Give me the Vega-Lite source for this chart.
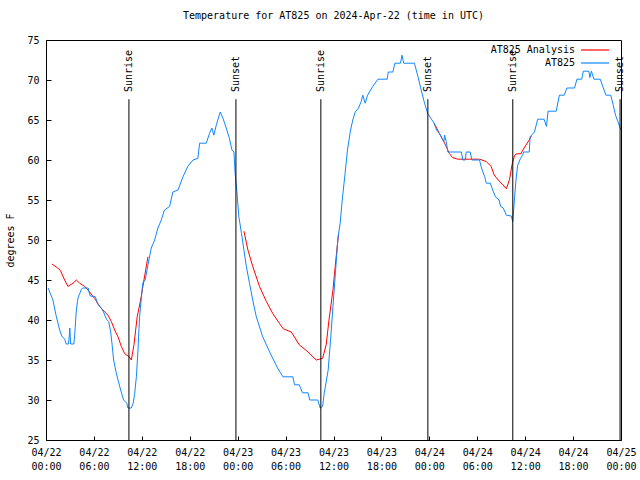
{
  "$schema": "https://vega.github.io/schema/vega-lite/v6.json",
  "width": 575,
  "height": 400,
  "autosize": "none",
  "padding": {"left": 46, "top": 40, "right": 19, "bottom": 40},
  "background": "white",
  "title": {"text": "Temperature for AT825 on 2024-Apr-22 (time in UTC)", "font": "DejaVu Sans Mono", "fontSize": 10, "fontWeight": "normal", "color": "black", "offset": 14},
  "config": {"view": {"stroke": "black", "strokeWidth": 1}, "font": "DejaVu Sans Mono"},
  "datasets": {
    "lines": [
      {"t": "2024-04-22T00:45:00Z", "temp": 47, "series": "AT825 Analysis", "seg": "r1"},
      {"t": "2024-04-22T01:28:00Z", "temp": 46.5, "series": "AT825 Analysis", "seg": "r1"},
      {"t": "2024-04-22T01:48:00Z", "temp": 46.2, "series": "AT825 Analysis", "seg": "r1"},
      {"t": "2024-04-22T02:20:00Z", "temp": 45, "series": "AT825 Analysis", "seg": "r1"},
      {"t": "2024-04-22T02:45:00Z", "temp": 44.2, "series": "AT825 Analysis", "seg": "r1"},
      {"t": "2024-04-22T03:23:00Z", "temp": 44.6, "series": "AT825 Analysis", "seg": "r1"},
      {"t": "2024-04-22T03:48:00Z", "temp": 45, "series": "AT825 Analysis", "seg": "r1"},
      {"t": "2024-04-22T04:13:00Z", "temp": 44.6, "series": "AT825 Analysis", "seg": "r1"},
      {"t": "2024-04-22T04:50:00Z", "temp": 44.2, "series": "AT825 Analysis", "seg": "r1"},
      {"t": "2024-04-22T05:28:00Z", "temp": 43.5, "series": "AT825 Analysis", "seg": "r1"},
      {"t": "2024-04-22T06:05:00Z", "temp": 42.7, "series": "AT825 Analysis", "seg": "r1"},
      {"t": "2024-04-22T06:43:00Z", "temp": 41.7, "series": "AT825 Analysis", "seg": "r1"},
      {"t": "2024-04-22T07:21:00Z", "temp": 41, "series": "AT825 Analysis", "seg": "r1"},
      {"t": "2024-04-22T07:46:00Z", "temp": 40.6, "series": "AT825 Analysis", "seg": "r1"},
      {"t": "2024-04-22T08:11:00Z", "temp": 39.8, "series": "AT825 Analysis", "seg": "r1"},
      {"t": "2024-04-22T08:36:00Z", "temp": 38.75, "series": "AT825 Analysis", "seg": "r1"},
      {"t": "2024-04-22T09:01:00Z", "temp": 37.9, "series": "AT825 Analysis", "seg": "r1"},
      {"t": "2024-04-22T09:26:00Z", "temp": 36.7, "series": "AT825 Analysis", "seg": "r1"},
      {"t": "2024-04-22T09:51:00Z", "temp": 35.8, "series": "AT825 Analysis", "seg": "r1"},
      {"t": "2024-04-22T10:25:00Z", "temp": 35.4, "series": "AT825 Analysis", "seg": "r1"},
      {"t": "2024-04-22T10:41:00Z", "temp": 35, "series": "AT825 Analysis", "seg": "r1"},
      {"t": "2024-04-22T11:01:00Z", "temp": 36.9, "series": "AT825 Analysis", "seg": "r1"},
      {"t": "2024-04-22T11:25:00Z", "temp": 40.4, "series": "AT825 Analysis", "seg": "r1"},
      {"t": "2024-04-22T11:51:00Z", "temp": 42.5, "series": "AT825 Analysis", "seg": "r1"},
      {"t": "2024-04-22T12:16:00Z", "temp": 45, "series": "AT825 Analysis", "seg": "r1"},
      {"t": "2024-04-22T12:46:00Z", "temp": 47.9, "series": "AT825 Analysis", "seg": "r1"},
      {"t": "2024-04-23T00:47:00Z", "temp": 51.1, "series": "AT825 Analysis", "seg": "r2"},
      {"t": "2024-04-23T01:17:00Z", "temp": 48.75, "series": "AT825 Analysis", "seg": "r2"},
      {"t": "2024-04-23T01:53:00Z", "temp": 46.7, "series": "AT825 Analysis", "seg": "r2"},
      {"t": "2024-04-23T02:44:00Z", "temp": 44.2, "series": "AT825 Analysis", "seg": "r2"},
      {"t": "2024-04-23T03:36:00Z", "temp": 42.3, "series": "AT825 Analysis", "seg": "r2"},
      {"t": "2024-04-23T04:24:00Z", "temp": 40.8, "series": "AT825 Analysis", "seg": "r2"},
      {"t": "2024-04-23T05:13:00Z", "temp": 39.6, "series": "AT825 Analysis", "seg": "r2"},
      {"t": "2024-04-23T05:43:00Z", "temp": 38.9, "series": "AT825 Analysis", "seg": "r2"},
      {"t": "2024-04-23T06:43:00Z", "temp": 38.5, "series": "AT825 Analysis", "seg": "r2"},
      {"t": "2024-04-23T07:43:00Z", "temp": 36.9, "series": "AT825 Analysis", "seg": "r2"},
      {"t": "2024-04-23T08:49:00Z", "temp": 36, "series": "AT825 Analysis", "seg": "r2"},
      {"t": "2024-04-23T09:50:00Z", "temp": 35, "series": "AT825 Analysis", "seg": "r2"},
      {"t": "2024-04-23T10:14:00Z", "temp": 35.1, "series": "AT825 Analysis", "seg": "r2"},
      {"t": "2024-04-23T10:38:00Z", "temp": 35.2, "series": "AT825 Analysis", "seg": "r2"},
      {"t": "2024-04-23T11:05:00Z", "temp": 36.9, "series": "AT825 Analysis", "seg": "r2"},
      {"t": "2024-04-23T11:26:00Z", "temp": 40, "series": "AT825 Analysis", "seg": "r2"},
      {"t": "2024-04-23T11:56:00Z", "temp": 43.75, "series": "AT825 Analysis", "seg": "r2"},
      {"t": "2024-04-23T12:20:00Z", "temp": 47.9, "series": "AT825 Analysis", "seg": "r2"},
      {"t": "2024-04-23T12:38:00Z", "temp": 50.8, "series": "AT825 Analysis", "seg": "r2"},
      {"t": "2024-04-24T00:36:00Z", "temp": 64.6, "series": "AT825 Analysis", "seg": "r3"},
      {"t": "2024-04-24T01:16:00Z", "temp": 63.3, "series": "AT825 Analysis", "seg": "r3"},
      {"t": "2024-04-24T01:55:00Z", "temp": 62.1, "series": "AT825 Analysis", "seg": "r3"},
      {"t": "2024-04-24T02:31:00Z", "temp": 60.8, "series": "AT825 Analysis", "seg": "r3"},
      {"t": "2024-04-24T02:55:00Z", "temp": 60.3, "series": "AT825 Analysis", "seg": "r3"},
      {"t": "2024-04-24T03:34:00Z", "temp": 60.1, "series": "AT825 Analysis", "seg": "r3"},
      {"t": "2024-04-24T05:01:00Z", "temp": 60.1, "series": "AT825 Analysis", "seg": "r3"},
      {"t": "2024-04-24T06:17:00Z", "temp": 60.1, "series": "AT825 Analysis", "seg": "r3"},
      {"t": "2024-04-24T07:08:00Z", "temp": 59.8, "series": "AT825 Analysis", "seg": "r3"},
      {"t": "2024-04-24T07:44:00Z", "temp": 59.2, "series": "AT825 Analysis", "seg": "r3"},
      {"t": "2024-04-24T08:08:00Z", "temp": 58.1, "series": "AT825 Analysis", "seg": "r3"},
      {"t": "2024-04-24T08:38:00Z", "temp": 57.5, "series": "AT825 Analysis", "seg": "r3"},
      {"t": "2024-04-24T09:12:00Z", "temp": 56.9, "series": "AT825 Analysis", "seg": "r3"},
      {"t": "2024-04-24T09:39:00Z", "temp": 56.4, "series": "AT825 Analysis", "seg": "r3"},
      {"t": "2024-04-24T10:03:00Z", "temp": 57.6, "series": "AT825 Analysis", "seg": "r3"},
      {"t": "2024-04-24T10:21:00Z", "temp": 59.4, "series": "AT825 Analysis", "seg": "r3"},
      {"t": "2024-04-24T10:39:00Z", "temp": 60.5, "series": "AT825 Analysis", "seg": "r3"},
      {"t": "2024-04-24T10:51:00Z", "temp": 60.75, "series": "AT825 Analysis", "seg": "r3"},
      {"t": "2024-04-24T11:28:00Z", "temp": 60.8, "series": "AT825 Analysis", "seg": "r3"},
      {"t": "2024-04-24T11:52:00Z", "temp": 61.5, "series": "AT825 Analysis", "seg": "r3"},
      {"t": "2024-04-24T12:34:00Z", "temp": 62.6, "series": "AT825 Analysis", "seg": "r3"},
      {"t": "2024-04-24T12:46:00Z", "temp": 63, "series": "AT825 Analysis", "seg": "r3"},
      {"t": "2024-04-22T00:16:00Z", "temp": 44, "series": "AT825", "seg": "b"},
      {"t": "2024-04-22T00:52:00Z", "temp": 42.5, "series": "AT825", "seg": "b"},
      {"t": "2024-04-22T01:18:00Z", "temp": 40.4, "series": "AT825", "seg": "b"},
      {"t": "2024-04-22T01:43:00Z", "temp": 38.75, "series": "AT825", "seg": "b"},
      {"t": "2024-04-22T01:58:00Z", "temp": 38, "series": "AT825", "seg": "b"},
      {"t": "2024-04-22T02:20:00Z", "temp": 37.6, "series": "AT825", "seg": "b"},
      {"t": "2024-04-22T02:32:00Z", "temp": 37, "series": "AT825", "seg": "b"},
      {"t": "2024-04-22T02:49:00Z", "temp": 37, "series": "AT825", "seg": "b"},
      {"t": "2024-04-22T02:55:00Z", "temp": 38, "series": "AT825", "seg": "b"},
      {"t": "2024-04-22T02:59:00Z", "temp": 39, "series": "AT825", "seg": "b"},
      {"t": "2024-04-22T03:05:00Z", "temp": 37, "series": "AT825", "seg": "b"},
      {"t": "2024-04-22T03:29:00Z", "temp": 37, "series": "AT825", "seg": "b"},
      {"t": "2024-04-22T03:35:00Z", "temp": 38, "series": "AT825", "seg": "b"},
      {"t": "2024-04-22T03:47:00Z", "temp": 41, "series": "AT825", "seg": "b"},
      {"t": "2024-04-22T03:56:00Z", "temp": 42.3, "series": "AT825", "seg": "b"},
      {"t": "2024-04-22T04:03:00Z", "temp": 42.9, "series": "AT825", "seg": "b"},
      {"t": "2024-04-22T04:13:00Z", "temp": 43.3, "series": "AT825", "seg": "b"},
      {"t": "2024-04-22T04:25:00Z", "temp": 43.8, "series": "AT825", "seg": "b"},
      {"t": "2024-04-22T04:35:00Z", "temp": 44, "series": "AT825", "seg": "b"},
      {"t": "2024-04-22T05:17:00Z", "temp": 44, "series": "AT825", "seg": "b"},
      {"t": "2024-04-22T05:23:00Z", "temp": 43.5, "series": "AT825", "seg": "b"},
      {"t": "2024-04-22T05:33:00Z", "temp": 43, "series": "AT825", "seg": "b"},
      {"t": "2024-04-22T06:11:00Z", "temp": 42.9, "series": "AT825", "seg": "b"},
      {"t": "2024-04-22T06:29:00Z", "temp": 42, "series": "AT825", "seg": "b"},
      {"t": "2024-04-22T06:55:00Z", "temp": 41.5, "series": "AT825", "seg": "b"},
      {"t": "2024-04-22T07:12:00Z", "temp": 41, "series": "AT825", "seg": "b"},
      {"t": "2024-04-22T07:34:00Z", "temp": 40.1, "series": "AT825", "seg": "b"},
      {"t": "2024-04-22T07:51:00Z", "temp": 39.8, "series": "AT825", "seg": "b"},
      {"t": "2024-04-22T08:06:00Z", "temp": 38.5, "series": "AT825", "seg": "b"},
      {"t": "2024-04-22T08:18:00Z", "temp": 36.7, "series": "AT825", "seg": "b"},
      {"t": "2024-04-22T08:28:00Z", "temp": 35, "series": "AT825", "seg": "b"},
      {"t": "2024-04-22T08:43:00Z", "temp": 33.75, "series": "AT825", "seg": "b"},
      {"t": "2024-04-22T09:01:00Z", "temp": 32.5, "series": "AT825", "seg": "b"},
      {"t": "2024-04-22T09:21:00Z", "temp": 31.25, "series": "AT825", "seg": "b"},
      {"t": "2024-04-22T09:43:00Z", "temp": 30, "series": "AT825", "seg": "b"},
      {"t": "2024-04-22T10:07:00Z", "temp": 29.6, "series": "AT825", "seg": "b"},
      {"t": "2024-04-22T10:16:00Z", "temp": 29, "series": "AT825", "seg": "b"},
      {"t": "2024-04-22T10:41:00Z", "temp": 29, "series": "AT825", "seg": "b"},
      {"t": "2024-04-22T10:55:00Z", "temp": 29.6, "series": "AT825", "seg": "b"},
      {"t": "2024-04-22T11:06:00Z", "temp": 30.8, "series": "AT825", "seg": "b"},
      {"t": "2024-04-22T11:19:00Z", "temp": 32.9, "series": "AT825", "seg": "b"},
      {"t": "2024-04-22T11:31:00Z", "temp": 36.25, "series": "AT825", "seg": "b"},
      {"t": "2024-04-22T11:43:00Z", "temp": 40.4, "series": "AT825", "seg": "b"},
      {"t": "2024-04-22T12:07:00Z", "temp": 44.6, "series": "AT825", "seg": "b"},
      {"t": "2024-04-22T12:25:00Z", "temp": 45, "series": "AT825", "seg": "b"},
      {"t": "2024-04-22T12:46:00Z", "temp": 46.9, "series": "AT825", "seg": "b"},
      {"t": "2024-04-22T13:11:00Z", "temp": 49, "series": "AT825", "seg": "b"},
      {"t": "2024-04-22T13:36:00Z", "temp": 50, "series": "AT825", "seg": "b"},
      {"t": "2024-04-22T14:01:00Z", "temp": 51.5, "series": "AT825", "seg": "b"},
      {"t": "2024-04-22T14:26:00Z", "temp": 52.5, "series": "AT825", "seg": "b"},
      {"t": "2024-04-22T14:50:00Z", "temp": 53.75, "series": "AT825", "seg": "b"},
      {"t": "2024-04-22T15:29:00Z", "temp": 54.2, "series": "AT825", "seg": "b"},
      {"t": "2024-04-22T15:53:00Z", "temp": 56, "series": "AT825", "seg": "b"},
      {"t": "2024-04-22T16:32:00Z", "temp": 56.25, "series": "AT825", "seg": "b"},
      {"t": "2024-04-22T17:09:00Z", "temp": 57.9, "series": "AT825", "seg": "b"},
      {"t": "2024-04-22T17:45:00Z", "temp": 59.2, "series": "AT825", "seg": "b"},
      {"t": "2024-04-22T18:24:00Z", "temp": 60, "series": "AT825", "seg": "b"},
      {"t": "2024-04-22T19:01:00Z", "temp": 60.2, "series": "AT825", "seg": "b"},
      {"t": "2024-04-22T19:14:00Z", "temp": 62.1, "series": "AT825", "seg": "b"},
      {"t": "2024-04-22T20:04:00Z", "temp": 62.1, "series": "AT825", "seg": "b"},
      {"t": "2024-04-22T20:28:00Z", "temp": 63.3, "series": "AT825", "seg": "b"},
      {"t": "2024-04-22T20:46:00Z", "temp": 64, "series": "AT825", "seg": "b"},
      {"t": "2024-04-22T21:01:00Z", "temp": 63.1, "series": "AT825", "seg": "b"},
      {"t": "2024-04-22T21:20:00Z", "temp": 64.4, "series": "AT825", "seg": "b"},
      {"t": "2024-04-22T21:49:00Z", "temp": 66, "series": "AT825", "seg": "b"},
      {"t": "2024-04-22T22:10:00Z", "temp": 65.2, "series": "AT825", "seg": "b"},
      {"t": "2024-04-22T22:34:00Z", "temp": 64, "series": "AT825", "seg": "b"},
      {"t": "2024-04-22T22:58:00Z", "temp": 62.7, "series": "AT825", "seg": "b"},
      {"t": "2024-04-22T23:17:00Z", "temp": 61.25, "series": "AT825", "seg": "b"},
      {"t": "2024-04-22T23:32:00Z", "temp": 61, "series": "AT825", "seg": "b"},
      {"t": "2024-04-22T23:41:00Z", "temp": 58.3, "series": "AT825", "seg": "b"},
      {"t": "2024-04-22T23:53:00Z", "temp": 56.25, "series": "AT825", "seg": "b"},
      {"t": "2024-04-23T00:09:00Z", "temp": 52.9, "series": "AT825", "seg": "b"},
      {"t": "2024-04-23T00:29:00Z", "temp": 50.8, "series": "AT825", "seg": "b"},
      {"t": "2024-04-23T00:47:00Z", "temp": 48.75, "series": "AT825", "seg": "b"},
      {"t": "2024-04-23T01:05:00Z", "temp": 46.7, "series": "AT825", "seg": "b"},
      {"t": "2024-04-23T01:29:00Z", "temp": 44.6, "series": "AT825", "seg": "b"},
      {"t": "2024-04-23T01:53:00Z", "temp": 42.5, "series": "AT825", "seg": "b"},
      {"t": "2024-04-23T02:20:00Z", "temp": 40.4, "series": "AT825", "seg": "b"},
      {"t": "2024-04-23T02:47:00Z", "temp": 39, "series": "AT825", "seg": "b"},
      {"t": "2024-04-23T03:08:00Z", "temp": 37.9, "series": "AT825", "seg": "b"},
      {"t": "2024-04-23T03:36:00Z", "temp": 36.9, "series": "AT825", "seg": "b"},
      {"t": "2024-04-23T04:00:00Z", "temp": 36, "series": "AT825", "seg": "b"},
      {"t": "2024-04-23T04:30:00Z", "temp": 35, "series": "AT825", "seg": "b"},
      {"t": "2024-04-23T05:00:00Z", "temp": 34, "series": "AT825", "seg": "b"},
      {"t": "2024-04-23T05:40:00Z", "temp": 32.9, "series": "AT825", "seg": "b"},
      {"t": "2024-04-23T06:55:00Z", "temp": 32.9, "series": "AT825", "seg": "b"},
      {"t": "2024-04-23T07:07:00Z", "temp": 31.9, "series": "AT825", "seg": "b"},
      {"t": "2024-04-23T07:43:00Z", "temp": 31.9, "series": "AT825", "seg": "b"},
      {"t": "2024-04-23T08:07:00Z", "temp": 30.9, "series": "AT825", "seg": "b"},
      {"t": "2024-04-23T08:49:00Z", "temp": 30.9, "series": "AT825", "seg": "b"},
      {"t": "2024-04-23T09:01:00Z", "temp": 30, "series": "AT825", "seg": "b"},
      {"t": "2024-04-23T10:02:00Z", "temp": 30, "series": "AT825", "seg": "b"},
      {"t": "2024-04-23T10:20:00Z", "temp": 29, "series": "AT825", "seg": "b"},
      {"t": "2024-04-23T10:38:00Z", "temp": 29.2, "series": "AT825", "seg": "b"},
      {"t": "2024-04-23T10:50:00Z", "temp": 30.8, "series": "AT825", "seg": "b"},
      {"t": "2024-04-23T11:20:00Z", "temp": 33.75, "series": "AT825", "seg": "b"},
      {"t": "2024-04-23T11:38:00Z", "temp": 37.5, "series": "AT825", "seg": "b"},
      {"t": "2024-04-23T11:56:00Z", "temp": 41.7, "series": "AT825", "seg": "b"},
      {"t": "2024-04-23T12:14:00Z", "temp": 45.8, "series": "AT825", "seg": "b"},
      {"t": "2024-04-23T12:32:00Z", "temp": 50, "series": "AT825", "seg": "b"},
      {"t": "2024-04-23T12:50:00Z", "temp": 52.1, "series": "AT825", "seg": "b"},
      {"t": "2024-04-23T13:08:00Z", "temp": 55.4, "series": "AT825", "seg": "b"},
      {"t": "2024-04-23T13:27:00Z", "temp": 58.3, "series": "AT825", "seg": "b"},
      {"t": "2024-04-23T13:45:00Z", "temp": 61.25, "series": "AT825", "seg": "b"},
      {"t": "2024-04-23T14:08:00Z", "temp": 63.75, "series": "AT825", "seg": "b"},
      {"t": "2024-04-23T14:25:00Z", "temp": 65, "series": "AT825", "seg": "b"},
      {"t": "2024-04-23T14:43:00Z", "temp": 66, "series": "AT825", "seg": "b"},
      {"t": "2024-04-23T15:08:00Z", "temp": 66.5, "series": "AT825", "seg": "b"},
      {"t": "2024-04-23T15:28:00Z", "temp": 67.3, "series": "AT825", "seg": "b"},
      {"t": "2024-04-23T15:40:00Z", "temp": 68.1, "series": "AT825", "seg": "b"},
      {"t": "2024-04-23T15:58:00Z", "temp": 67.1, "series": "AT825", "seg": "b"},
      {"t": "2024-04-23T16:16:00Z", "temp": 68.1, "series": "AT825", "seg": "b"},
      {"t": "2024-04-23T16:55:00Z", "temp": 69.2, "series": "AT825", "seg": "b"},
      {"t": "2024-04-23T17:34:00Z", "temp": 70.1, "series": "AT825", "seg": "b"},
      {"t": "2024-04-23T18:43:00Z", "temp": 70.1, "series": "AT825", "seg": "b"},
      {"t": "2024-04-23T18:52:00Z", "temp": 71, "series": "AT825", "seg": "b"},
      {"t": "2024-04-23T19:26:00Z", "temp": 71, "series": "AT825", "seg": "b"},
      {"t": "2024-04-23T19:41:00Z", "temp": 72.1, "series": "AT825", "seg": "b"},
      {"t": "2024-04-23T20:23:00Z", "temp": 72.1, "series": "AT825", "seg": "b"},
      {"t": "2024-04-23T20:35:00Z", "temp": 73.1, "series": "AT825", "seg": "b"},
      {"t": "2024-04-23T20:47:00Z", "temp": 72.1, "series": "AT825", "seg": "b"},
      {"t": "2024-04-23T22:08:00Z", "temp": 72.1, "series": "AT825", "seg": "b"},
      {"t": "2024-04-23T22:35:00Z", "temp": 70.4, "series": "AT825", "seg": "b"},
      {"t": "2024-04-23T22:59:00Z", "temp": 68.75, "series": "AT825", "seg": "b"},
      {"t": "2024-04-23T23:24:00Z", "temp": 67.1, "series": "AT825", "seg": "b"},
      {"t": "2024-04-23T23:48:00Z", "temp": 65.8, "series": "AT825", "seg": "b"},
      {"t": "2024-04-24T00:12:00Z", "temp": 65.2, "series": "AT825", "seg": "b"},
      {"t": "2024-04-24T00:36:00Z", "temp": 64.6, "series": "AT825", "seg": "b"},
      {"t": "2024-04-24T00:54:00Z", "temp": 63.75, "series": "AT825", "seg": "b"},
      {"t": "2024-04-24T01:16:00Z", "temp": 63.3, "series": "AT825", "seg": "b"},
      {"t": "2024-04-24T01:37:00Z", "temp": 62.7, "series": "AT825", "seg": "b"},
      {"t": "2024-04-24T01:49:00Z", "temp": 62.3, "series": "AT825", "seg": "b"},
      {"t": "2024-04-24T01:55:00Z", "temp": 63.1, "series": "AT825", "seg": "b"},
      {"t": "2024-04-24T02:07:00Z", "temp": 62.3, "series": "AT825", "seg": "b"},
      {"t": "2024-04-24T02:19:00Z", "temp": 61, "series": "AT825", "seg": "b"},
      {"t": "2024-04-24T04:01:00Z", "temp": 61, "series": "AT825", "seg": "b"},
      {"t": "2024-04-24T04:11:00Z", "temp": 60, "series": "AT825", "seg": "b"},
      {"t": "2024-04-24T04:31:00Z", "temp": 60, "series": "AT825", "seg": "b"},
      {"t": "2024-04-24T04:37:00Z", "temp": 61, "series": "AT825", "seg": "b"},
      {"t": "2024-04-24T05:07:00Z", "temp": 61, "series": "AT825", "seg": "b"},
      {"t": "2024-04-24T05:20:00Z", "temp": 60, "series": "AT825", "seg": "b"},
      {"t": "2024-04-24T06:17:00Z", "temp": 60, "series": "AT825", "seg": "b"},
      {"t": "2024-04-24T06:32:00Z", "temp": 59, "series": "AT825", "seg": "b"},
      {"t": "2024-04-24T06:56:00Z", "temp": 57.9, "series": "AT825", "seg": "b"},
      {"t": "2024-04-24T07:08:00Z", "temp": 57.1, "series": "AT825", "seg": "b"},
      {"t": "2024-04-24T07:38:00Z", "temp": 57.1, "series": "AT825", "seg": "b"},
      {"t": "2024-04-24T07:56:00Z", "temp": 56.25, "series": "AT825", "seg": "b"},
      {"t": "2024-04-24T08:17:00Z", "temp": 55.4, "series": "AT825", "seg": "b"},
      {"t": "2024-04-24T08:44:00Z", "temp": 55, "series": "AT825", "seg": "b"},
      {"t": "2024-04-24T08:56:00Z", "temp": 54.2, "series": "AT825", "seg": "b"},
      {"t": "2024-04-24T09:15:00Z", "temp": 54, "series": "AT825", "seg": "b"},
      {"t": "2024-04-24T09:39:00Z", "temp": 53.1, "series": "AT825", "seg": "b"},
      {"t": "2024-04-24T10:15:00Z", "temp": 53, "series": "AT825", "seg": "b"},
      {"t": "2024-04-24T10:27:00Z", "temp": 52.3, "series": "AT825", "seg": "b"},
      {"t": "2024-04-24T10:39:00Z", "temp": 55, "series": "AT825", "seg": "b"},
      {"t": "2024-04-24T10:51:00Z", "temp": 57.5, "series": "AT825", "seg": "b"},
      {"t": "2024-04-24T11:03:00Z", "temp": 59.3, "series": "AT825", "seg": "b"},
      {"t": "2024-04-24T11:25:00Z", "temp": 60.2, "series": "AT825", "seg": "b"},
      {"t": "2024-04-24T11:40:00Z", "temp": 60.6, "series": "AT825", "seg": "b"},
      {"t": "2024-04-24T11:49:00Z", "temp": 61, "series": "AT825", "seg": "b"},
      {"t": "2024-04-24T12:31:00Z", "temp": 61, "series": "AT825", "seg": "b"},
      {"t": "2024-04-24T12:37:00Z", "temp": 62.9, "series": "AT825", "seg": "b"},
      {"t": "2024-04-24T13:10:00Z", "temp": 63.5, "series": "AT825", "seg": "b"},
      {"t": "2024-04-24T13:34:00Z", "temp": 65.1, "series": "AT825", "seg": "b"},
      {"t": "2024-04-24T14:22:00Z", "temp": 65.1, "series": "AT825", "seg": "b"},
      {"t": "2024-04-24T14:40:00Z", "temp": 64.2, "series": "AT825", "seg": "b"},
      {"t": "2024-04-24T14:52:00Z", "temp": 66.1, "series": "AT825", "seg": "b"},
      {"t": "2024-04-24T15:53:00Z", "temp": 66.1, "series": "AT825", "seg": "b"},
      {"t": "2024-04-24T16:17:00Z", "temp": 68.1, "series": "AT825", "seg": "b"},
      {"t": "2024-04-24T16:53:00Z", "temp": 68.1, "series": "AT825", "seg": "b"},
      {"t": "2024-04-24T17:14:00Z", "temp": 69, "series": "AT825", "seg": "b"},
      {"t": "2024-04-24T18:11:00Z", "temp": 69, "series": "AT825", "seg": "b"},
      {"t": "2024-04-24T18:29:00Z", "temp": 70.1, "series": "AT825", "seg": "b"},
      {"t": "2024-04-24T19:05:00Z", "temp": 70.1, "series": "AT825", "seg": "b"},
      {"t": "2024-04-24T19:17:00Z", "temp": 71.1, "series": "AT825", "seg": "b"},
      {"t": "2024-04-24T19:59:00Z", "temp": 71.1, "series": "AT825", "seg": "b"},
      {"t": "2024-04-24T20:06:00Z", "temp": 70.3, "series": "AT825", "seg": "b"},
      {"t": "2024-04-24T20:18:00Z", "temp": 71.1, "series": "AT825", "seg": "b"},
      {"t": "2024-04-24T20:36:00Z", "temp": 70.1, "series": "AT825", "seg": "b"},
      {"t": "2024-04-24T21:24:00Z", "temp": 70.1, "series": "AT825", "seg": "b"},
      {"t": "2024-04-24T21:43:00Z", "temp": 69.2, "series": "AT825", "seg": "b"},
      {"t": "2024-04-24T22:07:00Z", "temp": 68.1, "series": "AT825", "seg": "b"},
      {"t": "2024-04-24T22:43:00Z", "temp": 68.1, "series": "AT825", "seg": "b"},
      {"t": "2024-04-24T23:01:00Z", "temp": 66.9, "series": "AT825", "seg": "b"},
      {"t": "2024-04-24T23:19:00Z", "temp": 65.6, "series": "AT825", "seg": "b"},
      {"t": "2024-04-24T23:37:00Z", "temp": 64.8, "series": "AT825", "seg": "b"},
      {"t": "2024-04-24T23:49:00Z", "temp": 64.2, "series": "AT825", "seg": "b"},
      {"t": "2024-04-24T23:58:00Z", "temp": 63.8, "series": "AT825", "seg": "b"}
    ],
    "events": [
      {"t": "2024-04-22T10:23:00Z", "label": "Sunrise"},
      {"t": "2024-04-22T23:47:00Z", "label": "Sunset"},
      {"t": "2024-04-23T10:25:00Z", "label": "Sunrise"},
      {"t": "2024-04-23T23:49:00Z", "label": "Sunset"},
      {"t": "2024-04-24T10:27:00Z", "label": "Sunrise"},
      {"t": "2024-04-24T23:53:00Z", "label": "Sunset"}
    ]
  },
  "layer": [
    {
      "data": {"name": "lines"},
      "mark": {"type": "line", "strokeWidth": 1},
      "encoding": {
        "x": {
          "field": "t", "type": "temporal",
          "scale": {"type": "utc", "domain": [{"year": 2024, "month": 4, "date": 22, "utc": true}, {"year": 2024, "month": 4, "date": 25, "utc": true}]},
          "axis": {
            "title": null, "grid": false, "domain": false,
            "values": [
              {"year": 2024, "month": 4, "date": 22, "hours": 0, "utc": true},
              {"year": 2024, "month": 4, "date": 22, "hours": 6, "utc": true},
              {"year": 2024, "month": 4, "date": 22, "hours": 12, "utc": true},
              {"year": 2024, "month": 4, "date": 22, "hours": 18, "utc": true},
              {"year": 2024, "month": 4, "date": 23, "hours": 0, "utc": true},
              {"year": 2024, "month": 4, "date": 23, "hours": 6, "utc": true},
              {"year": 2024, "month": 4, "date": 23, "hours": 12, "utc": true},
              {"year": 2024, "month": 4, "date": 23, "hours": 18, "utc": true},
              {"year": 2024, "month": 4, "date": 24, "hours": 0, "utc": true},
              {"year": 2024, "month": 4, "date": 24, "hours": 6, "utc": true},
              {"year": 2024, "month": 4, "date": 24, "hours": 12, "utc": true},
              {"year": 2024, "month": 4, "date": 24, "hours": 18, "utc": true},
              {"year": 2024, "month": 4, "date": 25, "hours": 0, "utc": true}
            ],
            "labelExpr": "[utcFormat(datum.value, '%m/%d'), utcFormat(datum.value, '%H:%M')]",
            "tickSize": -4, "tickColor": "black",
            "labelPadding": 11, "labelLineHeight": 14, "labelFlush": false, "labelAngle": 0,
            "labelFontSize": 10, "labelColor": "black"
          }
        },
        "y": {
          "field": "temp", "type": "quantitative",
          "scale": {"domain": [25, 75], "nice": false, "zero": false},
          "axis": {
            "values": [25, 30, 35, 40, 45, 50, 55, 60, 65, 70, 75], "grid": false, "domain": false,
            "labelOverlap": false,
            "tickSize": -5, "tickColor": "black", "labelPadding": 12, "labelFontSize": 10, "labelColor": "black",
            "title": "degrees F", "titleFontSize": 10, "titleFontWeight": "normal", "titleColor": "black",
            "titleX": -36, "titleY": 200, "titleAngle": 270, "titleAlign": "center", "titleBaseline": "middle"
          }
        },
        "color": {
          "field": "series", "type": "nominal",
          "scale": {"domain": ["AT825 Analysis", "AT825"], "range": ["#ff0000", "#0f87ff"]},
          "legend": {
            "orient": "none", "legendX": 544, "legendY": 5, "title": null, "padding": 0,
            "symbolType": "M-4,0H4", "symbolSize": 49, "symbolStrokeWidth": 1.2,
            "labelFontSize": 10, "labelColor": "black",
            "labelAlign": "right", "labelOffset": -25, "rowPadding": 3
          }
        },
        "detail": {"field": "seg", "type": "nominal"}
      }
    },
    {
      "data": {"name": "events"},
      "mark": {"type": "rule", "color": "black", "strokeWidth": 1},
      "encoding": {
        "x": {"field": "t", "type": "temporal"},
        "y": {
          "datum": 25, "type": "quantitative",
          "axis": {
            "values": [25, 30, 35, 40, 45, 50, 55, 60, 65, 70, 75], "grid": false, "domain": false,
            "labelOverlap": false,
            "tickSize": -5, "tickColor": "black", "labelPadding": 12, "labelFontSize": 10, "labelColor": "black",
            "title": "degrees F", "titleFontSize": 10, "titleFontWeight": "normal", "titleColor": "black",
            "titleX": -36, "titleY": 200, "titleAngle": 270, "titleAlign": "center", "titleBaseline": "middle"
          }
        },
        "y2": {"datum": 67.6}
      }
    },
    {
      "data": {"name": "events"},
      "mark": {"type": "text", "angle": 270, "align": "left", "baseline": "middle", "fontSize": 10, "color": "black"},
      "encoding": {
        "x": {"field": "t", "type": "temporal"},
        "y": {
          "datum": 68.5, "type": "quantitative",
          "axis": {
            "values": [25, 30, 35, 40, 45, 50, 55, 60, 65, 70, 75], "grid": false, "domain": false,
            "labelOverlap": false,
            "tickSize": -5, "tickColor": "black", "labelPadding": 12, "labelFontSize": 10, "labelColor": "black",
            "title": "degrees F", "titleFontSize": 10, "titleFontWeight": "normal", "titleColor": "black",
            "titleX": -36, "titleY": 200, "titleAngle": 270, "titleAlign": "center", "titleBaseline": "middle"
          }
        },
        "text": {"field": "label"}
      }
    }
  ]
}
